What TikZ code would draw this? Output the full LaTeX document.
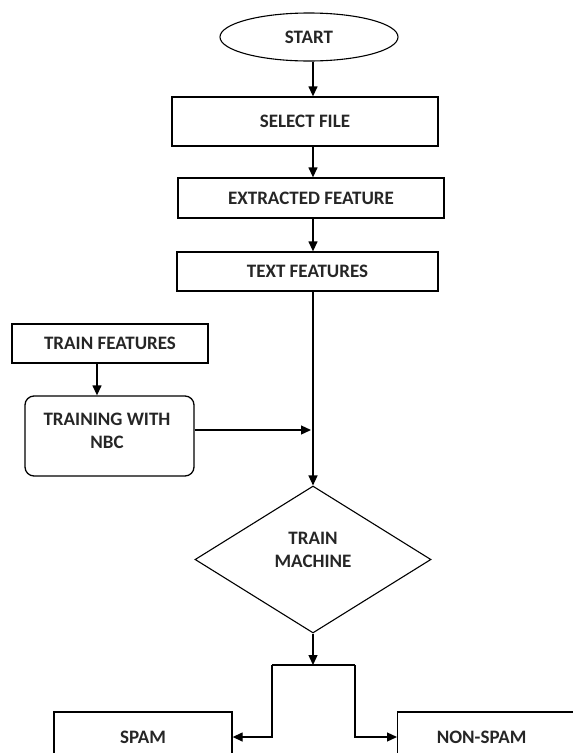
\documentclass[tikz,border=0pt]{standalone}
\usepackage{fontspec}
\setmainfont{Carlito}
\usetikzlibrary{shapes.geometric,arrows.meta}
\tikzset{
  lbl/.style={font=\bfseries\fontsize{19}{22.5}\selectfont, align=center, text=black!85},
  box/.style={draw, line width=1.3pt, rectangle, inner sep=0pt, lbl},
  rbox/.style={box, rounded corners=9pt},
  arr/.style={line width=1.3pt, -{Triangle[length=10pt,width=9pt]}},
  ln/.style={line width=1.3pt},
}
\begin{document}
\begin{tikzpicture}[x=1pt,y=-1pt]
\useasboundingbox (0,0) rectangle (573,753);
\clip (0,0) rectangle (573,753);
\coordinate (ax) at (313,0);
\node[draw, ellipse, line width=1.1pt, minimum width=178pt, minimum height=48pt, inner sep=0pt, lbl] (start) at (309,37) {START};
\node[box, minimum width=266pt, minimum height=49pt] (select) at (305,121.5) {SELECT FILE};
\node[box, minimum width=266pt, minimum height=40pt] (extract) at (311,198) {EXTRACTED FEATURE};
\node[box, minimum width=261pt, minimum height=39pt] (textf) at (307.5,271.5) {TEXT FEATURES};
\node[box, minimum width=196pt, minimum height=39pt] (trainf) at (110,343.5) {TRAIN FEATURES};
\node[rbox, minimum width=169pt, minimum height=80pt] (training) at (109.5,436) {};
\node[lbl] (trainingtxt) at (107,431) {TRAINING WITH\\NBC};
\node[draw, diamond, line width=1.1pt, minimum width=236pt, minimum height=147pt, inner sep=0pt] (dia) at (313,559.5) {};
\node[lbl] (diatxt) at (313,550) {TRAIN\\MACHINE};
\node[box, minimum width=178pt, minimum height=50pt] (spam) at (143,737) {SPAM};
\node[box, minimum width=178pt, minimum height=50pt, anchor=west] (nonspam) at (397,737) {\hspace*{-10pt}NON-SPAM};
\coordinate (bl) at (272,665);
\coordinate (br) at (355,665);
\draw[arr] (ax |- start.south) -- (ax |- select.north);
\draw[arr] (ax |- select.south) -- (ax |- extract.north);
\draw[arr] (ax |- extract.south) -- (ax |- textf.north);
\draw[arr] (ax |- textf.south) -- (dia.north);
\draw[arr] (97,0 |- trainf.south) -- (97,0 |- training.north);
\draw[arr] (training.east |- 0,430) -- (311,430);
\draw[arr] (dia.south) -- (ax |- bl);
\draw[ln] (bl) -- (br);
\draw[arr] (bl) |- (spam.east);
\draw[arr] (br) |- (nonspam.west);
\end{tikzpicture}
\end{document}
